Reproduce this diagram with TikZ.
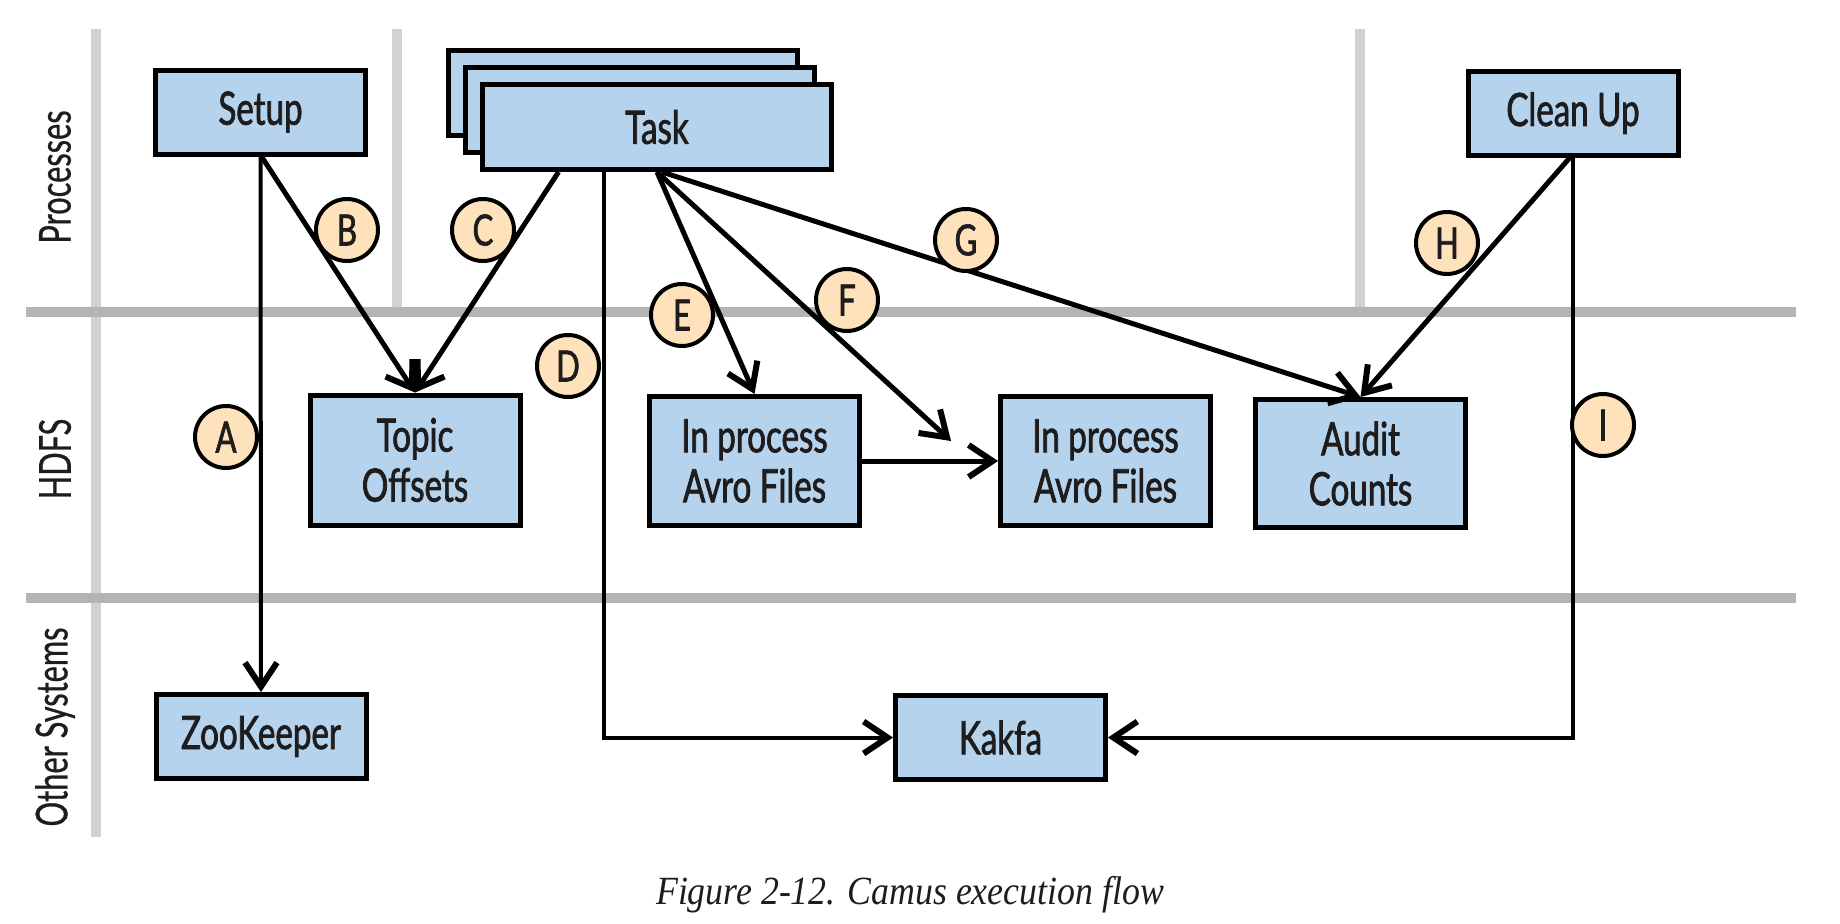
\documentclass[tikz,border=0pt]{standalone}
\usepackage{fontspec}
\usepackage{xcolor}
\usepackage{tikz}
\usetikzlibrary{arrows.meta, positioning, calc}
\newfontfamily\boxfont[FakeStretch=0.72, FakeBold=1.6]{Lato}
\newfontfamily\lanefont[FakeStretch=0.7, FakeBold=0.6]{Lato}
\newfontfamily\capfont[FakeStretch=0.895]{Liberation Serif}
\definecolor{boxblue}{RGB}{181,211,237}
\definecolor{peach}{RGB}{254,226,188}
\definecolor{lanegrey}{RGB}{180,180,180}
\definecolor{lanelight}{RGB}{210,210,210}
\definecolor{inkblack}{RGB}{30,28,28}

\begin{document}
\begin{tikzpicture}[x=1pt, y=-1pt, >={Straight Barb[length=24pt,width=32pt,line width=6pt]}]
	\tikzstyle{procbox}=[rectangle, draw=black, line width=5pt, fill=boxblue, text=inkblack, minimum width=210pt, minimum height=84pt, inner sep=0pt, align=center, font=\boxfont\fontsize{46}{50}\selectfont]
	\tikzstyle{lblcirc}=[circle, draw=black, line width=4pt, fill=peach, text=inkblack, minimum size=62pt, inner sep=0pt, font=\boxfont\fontsize{43}{43}\selectfont]
	\tikzstyle{lanetext}=[rotate=90, text=inkblack, font=\lanefont\fontsize{44}{44}\selectfont]
	\tikzstyle{flow}=[draw=black, line width=5pt, ->]
	\tikzstyle{flowthin}=[draw=black, line width=4pt, ->]
	\useasboundingbox (0,0) rectangle (1840,924);

	\draw[lanelight, line width=10pt] (96,29) -- (96,837);
	\draw[lanelight, line width=10pt] (397,29) -- (397,308);
	\draw[lanelight, line width=10pt] (1360,29) -- (1360,308);
	\draw[lanegrey, line width=10pt] (26,312) -- (1796,312);
	\draw[lanegrey, line width=10pt] (26,598) -- (1796,598);

	\node (processes) at (55,177) [lanetext] {Processes};
	\node (hdfs) at (55,459) [lanetext] {HDFS};
	\node (others) at (55,727) [lanetext] {Other Systems};

	\node (setup) at (260.5,112) [procbox] {Setup};
	\node (taskb) at (623,93) [procbox, minimum width=349pt, minimum height=85pt] {};
	\node (taskm) at (640,110) [procbox, minimum width=349pt, minimum height=85pt] {};
	\node (task) at (657,127) [procbox, minimum width=349pt, minimum height=85pt] {Task};
	\node (cleanup) at (1573,113) [procbox] {Clean Up};

	\node (topic) at (415,460) [procbox, minimum height=130pt] {Topic\\Offsets};
	\node (inproc1) at (754.5,461) [procbox, minimum height=129pt] {In process\\Avro Files};
	\node (inproc2) at (1105.5,461) [procbox, minimum height=129pt] {In process\\Avro Files};
	\node (audit) at (1360.5,463.5) [procbox, minimum height=128pt] {Audit\\Counts};

	\node (zoo) at (261,736.5) [procbox] {ZooKeeper};
	\node (kafka) at (1000.5,737.5) [procbox] {Kakfa};

	\coordinate (fend) at (951,441);

	\draw[flowthin] (setup.south) -- (zoo.north);
	\draw[flow] ([xshift=1pt]setup.south) -- (topic.north);
	\draw[flow] ([xshift=-98.5pt]task.south) -- (topic.north);
	\draw[flowthin] ([xshift=-53pt]task.south) |- (kafka.west);
	\draw[flow] (task.south) -- (inproc1.north);
	\draw[flow] (task.south) -- (fend);
	\draw[flow] ([xshift=5pt]task.south) -- (audit.north);
	\draw[flow] ([xshift=-3pt]cleanup.south) -- (audit.north);
	\draw[flowthin] (cleanup.south) |- (kafka.east);
	\draw[flow] (inproc1.east) -- (inproc2.west);

	\node (lblA) at (226,437) [lblcirc] {A};
	\node (lblB) at (347,230) [lblcirc] {B};
	\node (lblC) at (483,230) [lblcirc] {C};
	\node (lblD) at (568,366) [lblcirc] {D};
	\node (lblE) at (682,315) [lblcirc] {E};
	\node (lblF) at (847,300) [lblcirc] {F};
	\node (lblG) at (966,240) [lblcirc] {G};
	\node (lblH) at (1447,243) [lblcirc] {H};
	\node (lblI) at (1603,425) [lblcirc] {I};

	\node (caption) at (910,904) [anchor=base, text=inkblack, font=\capfont\itshape\fontsize{40}{40}\selectfont] {Figure 2-12. Camus execution flow};
\end{tikzpicture}
\end{document}
